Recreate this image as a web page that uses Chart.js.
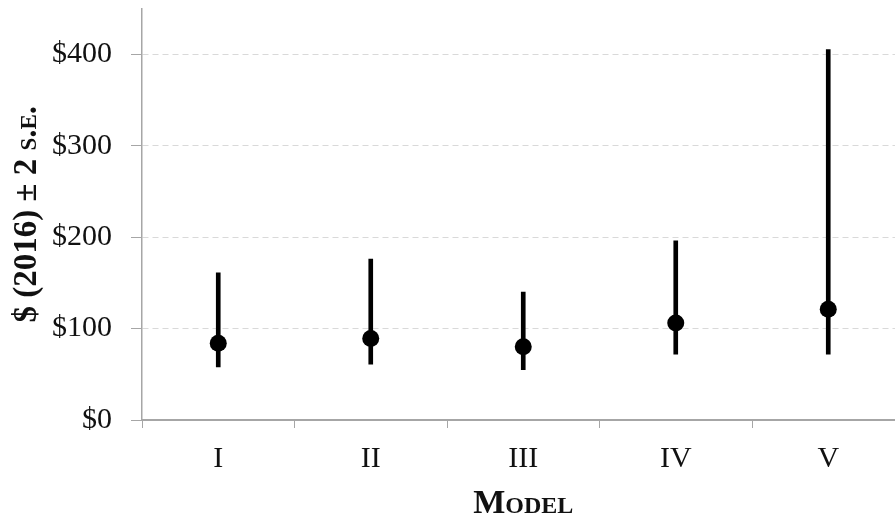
<!DOCTYPE html>
<html>
<head>
<meta charset="utf-8">
<script src="https://cdn.jsdelivr.net/npm/chart.js@4"></script>
<style>
  html, body { margin: 0; padding: 0; background: #fff; overflow: hidden; }
  #wrap { width: 895px; height: 518px; overflow: hidden; }
</style>
</head>
<body>
<div id="wrap"><canvas id="errChart" width="913" height="518"></canvas></div>
<script>
// values
const models = ['I', 'II', 'III', 'IV', 'V'];
const means = [84, 89, 80, 106, 121];
const lower = [58, 61, 55, 72, 72];
const upper = [161, 176, 140, 196, 405];
const yTickValues = [0, 100, 200, 300, 400];
const yTickLabels = ['$0', '$100', '$200', '$300', '$400'];

const serif = "'Liberation Serif', 'Times New Roman', serif";
const axisGray = '#a6a6a6';
const textColor = '#111';

// error bars as floating bars (low..high)
const ranges = models.map((m, i) => [lower[i], upper[i]]);

let ctx = document.getElementById('errChart').getContext('2d');
let errChart = new Chart(ctx, {
    type: 'bar',
    data: {
        labels: models,
        datasets: [{
            type: 'line',
            label: 'Mean',
            data: means,
            showLine: false,
            pointRadius: 8.5,
            pointBackgroundColor: '#000',
            pointBorderColor: '#000',
            pointBorderWidth: 0,
            order: 0
        }, {
            label: '± 2 s.e.',
            data: ranges,
            backgroundColor: '#000',
            borderWidth: 0,
            barThickness: 4,
            order: 1
        }]
    },
    options: {
        responsive: false,
        animation: false,
        devicePixelRatio: 1,
        layout: { padding: { top: 7, right: 0, left: 0, bottom: 0 } },
        plugins: {
            legend: { display: false },
            tooltip: { enabled: false }
        },
        scales: {
            x: {
                offset: true,
                grid: {
                    offset: true,
                    drawOnChartArea: false,
                    drawTicks: true,
                    tickLength: 8,
                    color: axisGray,
                    tickColor: axisGray
                },
                border: { color: axisGray, width: 2 },
                ticks: {
                    font: { family: serif, size: 30 },
                    color: textColor,
                    padding: 13
                },
                title: {
                    display: true,
                    text: 'Model',
                    color: textColor,
                    font: { family: serif, size: 34, weight: 'small-caps bold', lineHeight: 1 },
                    padding: { top: 0, bottom: -3 }
                },
                afterFit(scale) {
                    scale.height = 98;
                    scale.paddingLeft = 0;
                    scale.paddingRight = 0;
                }
            },
            y: {
                min: 0,
                max: 450,
                ticks: {
                    stepSize: 100,
                    includeBounds: false,
                    font: { family: serif, size: 30 },
                    color: textColor,
                    padding: 19,
                    callback: (v) => yTickLabels[yTickValues.indexOf(v)]
                },
                grid: {
                    color: '#d9d9d9',
                    tickColor: axisGray,
                    tickLength: 11,
                    tickBorderDash: []
                },
                border: { color: axisGray, width: 1.5, dash: [6, 4] },
                title: {
                    display: true,
                    text: '$ (2016) ± 2 s.e.',
                    color: textColor,
                    font: { family: serif, size: 33, weight: 'small-caps bold' },
                    padding: { top: 8, bottom: 0 }
                },
                afterFit(scale) {
                    scale.width = 142;
                    scale.paddingTop = 0;
                    scale.paddingBottom = 0;
                }
            }
        }
    }
});
</script>
</body>
</html>
